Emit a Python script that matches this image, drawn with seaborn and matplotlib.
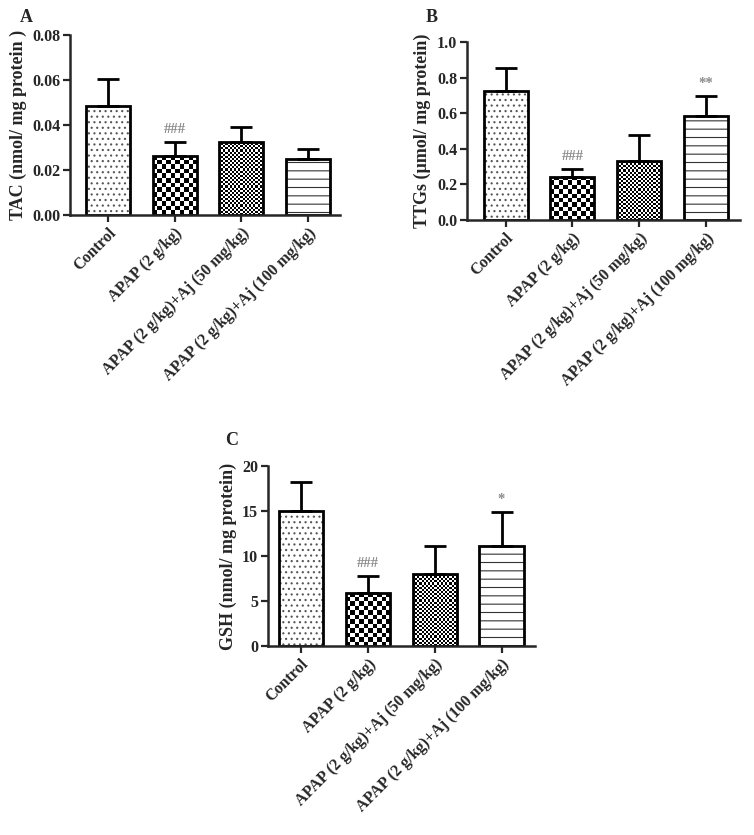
import numpy as np
import pandas as pd
import matplotlib
matplotlib.use("Agg")
import matplotlib.pyplot as plt
from matplotlib.patches import Rectangle
import seaborn as sns

# ---------------- data ----------------
groups = ["Control", "APAP (2 g/kg)", "APAP (2 g/kg)+Aj (50 mg/kg)",
          "APAP (2 g/kg)+Aj (100 mg/kg)"]

tac_mean = [0.0484, 0.0264, 0.0326, 0.0250]
tac_sem = [0.0119, 0.0062, 0.0066, 0.0045]
tac_marks = ["", "###", "", ""]

ttg_mean = [0.726, 0.243, 0.330, 0.584]
ttg_sem = [0.126, 0.042, 0.150, 0.113]
ttg_marks = ["", "###", "", "**"]

gsh_mean = [15.0, 5.93, 8.0, 11.14]
gsh_sem = [3.26, 1.88, 3.14, 3.78]
gsh_marks = ["", "###", "", "*"]

tac_ticks = [0.00, 0.02, 0.04, 0.06, 0.08]
ttg_ticks = [0.0, 0.2, 0.4, 0.6, 0.8, 1.0]
gsh_ticks = [0, 5, 10, 15, 20]

# ---------------- style ----------------
sns.set_style("ticks")
plt.rcParams["font.family"] = ["Liberation Serif", "DejaVu Serif"]
plt.rcParams["font.weight"] = "bold"
plt.rcParams["axes.labelweight"] = "bold"
plt.rcParams["hatch.linewidth"] = 0.8

fig = plt.figure(figsize=(7.54, 8.35), dpi=100)


def checker(ax, patch, sq_px, zorder):
    """Fill a bar patch with a checkerboard image clipped to it."""
    x0 = patch.get_x()
    w = patch.get_width()
    h = patch.get_height()
    p0 = ax.transData.transform((x0, 0))
    p1 = ax.transData.transform((x0 + w, h))
    nx = max(1, int(round((p1[0] - p0[0]) / sq_px)))
    ny = max(1, int(round((p1[1] - p0[1]) / sq_px)))
    yy, xx = np.mgrid[0:ny, 0:nx]
    arr = ((xx + yy) % 2).astype(float)
    im = ax.imshow(arr, cmap="gray", extent=(x0, x0 + w, 0, h), origin="lower",
                   aspect="auto", interpolation="nearest", zorder=zorder)
    im.set_clip_path(patch)
    patch.set_facecolor("none")


def hatch_overlay(ax, patch, hatch, color, zorder):
    r = Rectangle((patch.get_x(), patch.get_y()), patch.get_width(),
                  patch.get_height(), facecolor="none", edgecolor=color,
                  linewidth=0, hatch=hatch, zorder=zorder)
    ax.add_patch(r)
    patch.set_facecolor("none")


def panel(rect, means, sems, marks, ticks, ylim, ylabel, letter, letter_xy,
          xlim, fmt):
    ax = fig.add_axes(rect)
    df = pd.DataFrame({"group": groups, "value": means})
    sns.barplot(data=df, x="group", y="value", hue="group", order=groups,
                hue_order=groups, palette=["white"] * 4, edgecolor="black",
                linewidth=2.0, width=0.66, errorbar=None, legend=False,
                saturation=1, ax=ax)
    ax.set_xlim(*xlim)
    ax.set_ylim(*ylim)
    bars = list(ax.patches[:4])
    xs = [b.get_x() + b.get_width() / 2 for b in bars]
    ax.errorbar(xs, means, yerr=[np.zeros(4), sems], fmt="none",
                ecolor="black", elinewidth=2.0, capsize=8, capthick=2.0,
                zorder=0.8)
    # patterns
    hatch_overlay(ax, bars[0], "...", "#555555", 0.9)
    hatch_overlay(ax, bars[3], "--", "#333333", 0.9)
    checker(ax, bars[1], 4.5, 0.7)
    checker(ax, bars[2], 2.1, 0.7)
    for b in bars:
        b.set_zorder(1.0)
    # significance marks
    for x, m, s, t in zip(xs, means, sems, marks):
        if t:
            ax.annotate(t, (x, m + s), xytext=(0, 9), textcoords="offset points",
                        ha="center", va="center", fontsize=10.5,
                        color="#8a8a8a", fontweight="bold")
    ax.set_yticks(ticks)
    ax.set_yticklabels([fmt.format(t) for t in ticks], fontsize=11.5,
                       fontweight="bold")
    ax.set_xticks(range(4))
    ax.set_xticklabels(groups, rotation=45, ha="right", rotation_mode="anchor",
                       fontsize=11.5, fontweight="bold")
    ax.set_xlabel("")
    ax.set_ylabel(ylabel, fontsize=13, fontweight="bold", labelpad=4)
    for side in ["top", "right"]:
        ax.spines[side].set_visible(False)
    for side in ["left", "bottom"]:
        ax.spines[side].set_linewidth(1.8)
    ax.tick_params(axis="both", width=1.6, length=5, direction="out", pad=2)
    fig.text(letter_xy[0], letter_xy[1], letter, fontsize=13,
             fontweight="bold", ha="center", va="center")
    return ax


panel([70 / 754, 1 - 215 / 835, 270 / 754, 180 / 835], tac_mean, tac_sem,
      tac_marks, tac_ticks, (0, 0.08), "TAC (nmol/ mg protein )", "A",
      (26 / 754, 1 - 18 / 835), (-0.57, 3.48), "{:.2f}")

panel([467 / 754, 1 - 220 / 835, 273 / 754, 178 / 835], ttg_mean, ttg_sem,
      ttg_marks, ttg_ticks, (0, 1.0), "TTGs (\u00b5mol/ mg protein)", "B",
      (432 / 754, 1 - 18 / 835), (-0.58, 3.51), "{:.1f}")

panel([268 / 754, 1 - 646 / 835, 267 / 754, 180 / 835], gsh_mean, gsh_sem,
      gsh_marks, gsh_ticks, (0, 20), "GSH (nmol/ mg protein)", "C",
      (232 / 754, 1 - 440 / 835), (-0.49, 3.5), "{:d}")

fig.savefig("out.png", dpi=100)
